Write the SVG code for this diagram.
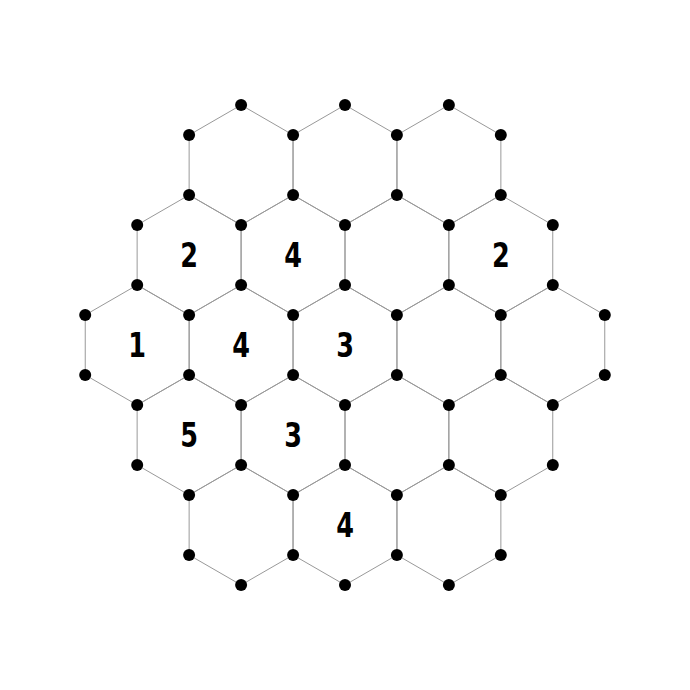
<svg xmlns="http://www.w3.org/2000/svg" xmlns:xlink="http://www.w3.org/1999/xlink" width="690" height="690" viewBox="0 0 690 690">
<style>
.hex{fill:none;stroke:#999;stroke-width:1}
.dot{fill:#000}
.lbl{font-family:"DejaVu Sans",sans-serif;font-weight:bold;font-size:34px;text-anchor:middle;fill:#000}
</style>
<defs>
<path id="h" d="M0,-60 L51.96,-30 L51.96,30 L0,60 L-51.96,30 L-51.96,-30 Z"/>
</defs>
<rect width="690" height="690" fill="#fff"/>
<g id="connectors">
<use class="hex" xlink:href="#h" href="#h" transform="translate(241.1,165)"/>
<use class="hex" xlink:href="#h" href="#h" transform="translate(345,165)"/>
<use class="hex" xlink:href="#h" href="#h" transform="translate(448.9,165)"/>
<use class="hex" xlink:href="#h" href="#h" transform="translate(189.1,255)"/>
<use class="hex" xlink:href="#h" href="#h" transform="translate(293.1,255)"/>
<use class="hex" xlink:href="#h" href="#h" transform="translate(396.9,255)"/>
<use class="hex" xlink:href="#h" href="#h" transform="translate(500.8,255)"/>
<use class="hex" xlink:href="#h" href="#h" transform="translate(137.2,345)"/>
<use class="hex" xlink:href="#h" href="#h" transform="translate(241.1,345)"/>
<use class="hex" xlink:href="#h" href="#h" transform="translate(345,345)"/>
<use class="hex" xlink:href="#h" href="#h" transform="translate(448.9,345)"/>
<use class="hex" xlink:href="#h" href="#h" transform="translate(552.8,345)"/>
<use class="hex" xlink:href="#h" href="#h" transform="translate(189.1,435)"/>
<use class="hex" xlink:href="#h" href="#h" transform="translate(293.1,435)"/>
<use class="hex" xlink:href="#h" href="#h" transform="translate(396.9,435)"/>
<use class="hex" xlink:href="#h" href="#h" transform="translate(500.8,435)"/>
<use class="hex" xlink:href="#h" href="#h" transform="translate(241.1,525)"/>
<use class="hex" xlink:href="#h" href="#h" transform="translate(345,525)"/>
<use class="hex" xlink:href="#h" href="#h" transform="translate(448.9,525)"/>
</g>
<g id="nodes">
<g id="r105"><circle class="dot" cx="241.1" cy="105" r="6"/><circle class="dot" cx="345" cy="105" r="6"/><circle class="dot" cx="448.9" cy="105" r="6"/></g>
<g id="r135"><circle class="dot" cx="189.1" cy="135" r="6"/><circle class="dot" cx="293.1" cy="135" r="6"/><circle class="dot" cx="396.9" cy="135" r="6"/><circle class="dot" cx="500.8" cy="135" r="6"/></g>
<g id="r195"><circle class="dot" cx="189.1" cy="195" r="6"/><circle class="dot" cx="293.1" cy="195" r="6"/><circle class="dot" cx="396.9" cy="195" r="6"/><circle class="dot" cx="500.8" cy="195" r="6"/></g>
<g id="r225"><circle class="dot" cx="137.2" cy="225" r="6"/><circle class="dot" cx="241.1" cy="225" r="6"/><circle class="dot" cx="345" cy="225" r="6"/><circle class="dot" cx="448.9" cy="225" r="6"/><circle class="dot" cx="552.8" cy="225" r="6"/></g>
<g id="r285"><circle class="dot" cx="137.2" cy="285" r="6"/><circle class="dot" cx="241.1" cy="285" r="6"/><circle class="dot" cx="345" cy="285" r="6"/><circle class="dot" cx="448.9" cy="285" r="6"/><circle class="dot" cx="552.8" cy="285" r="6"/></g>
<g id="r315"><circle class="dot" cx="85.2" cy="315" r="6"/><circle class="dot" cx="189.1" cy="315" r="6"/><circle class="dot" cx="293.1" cy="315" r="6"/><circle class="dot" cx="396.9" cy="315" r="6"/><circle class="dot" cx="500.8" cy="315" r="6"/><circle class="dot" cx="604.8" cy="315" r="6"/></g>
<g id="r375"><circle class="dot" cx="85.2" cy="375" r="6"/><circle class="dot" cx="189.1" cy="375" r="6"/><circle class="dot" cx="293.1" cy="375" r="6"/><circle class="dot" cx="396.9" cy="375" r="6"/><circle class="dot" cx="500.8" cy="375" r="6"/><circle class="dot" cx="604.8" cy="375" r="6"/></g>
<g id="r405"><circle class="dot" cx="137.2" cy="405" r="6"/><circle class="dot" cx="241.1" cy="405" r="6"/><circle class="dot" cx="345" cy="405" r="6"/><circle class="dot" cx="448.9" cy="405" r="6"/><circle class="dot" cx="552.8" cy="405" r="6"/></g>
<g id="r465"><circle class="dot" cx="137.2" cy="465" r="6"/><circle class="dot" cx="241.1" cy="465" r="6"/><circle class="dot" cx="345" cy="465" r="6"/><circle class="dot" cx="448.9" cy="465" r="6"/><circle class="dot" cx="552.8" cy="465" r="6"/></g>
<g id="r495"><circle class="dot" cx="189.1" cy="495" r="6"/><circle class="dot" cx="293.1" cy="495" r="6"/><circle class="dot" cx="396.9" cy="495" r="6"/><circle class="dot" cx="500.8" cy="495" r="6"/></g>
<g id="r555"><circle class="dot" cx="189.1" cy="555" r="6"/><circle class="dot" cx="293.1" cy="555" r="6"/><circle class="dot" cx="396.9" cy="555" r="6"/><circle class="dot" cx="500.8" cy="555" r="6"/></g>
<g id="r585"><circle class="dot" cx="241.1" cy="585" r="6"/><circle class="dot" cx="345" cy="585" r="6"/><circle class="dot" cx="448.9" cy="585" r="6"/></g>
</g>
<g id="labels">
<text class="lbl" transform="translate(189.1,267) scale(0.75,1)">2</text>
<text class="lbl" transform="translate(293.1,267) scale(0.75,1)">4</text>
<text class="lbl" transform="translate(500.8,267) scale(0.75,1)">2</text>
<text class="lbl" transform="translate(137.2,357) scale(0.75,1)">1</text>
<text class="lbl" transform="translate(241.1,357) scale(0.75,1)">4</text>
<text class="lbl" transform="translate(345,357) scale(0.75,1)">3</text>
<text class="lbl" transform="translate(189.1,447) scale(0.75,1)">5</text>
<text class="lbl" transform="translate(293.1,447) scale(0.75,1)">3</text>
<text class="lbl" transform="translate(345,537) scale(0.75,1)">4</text>
</g>
</svg>
